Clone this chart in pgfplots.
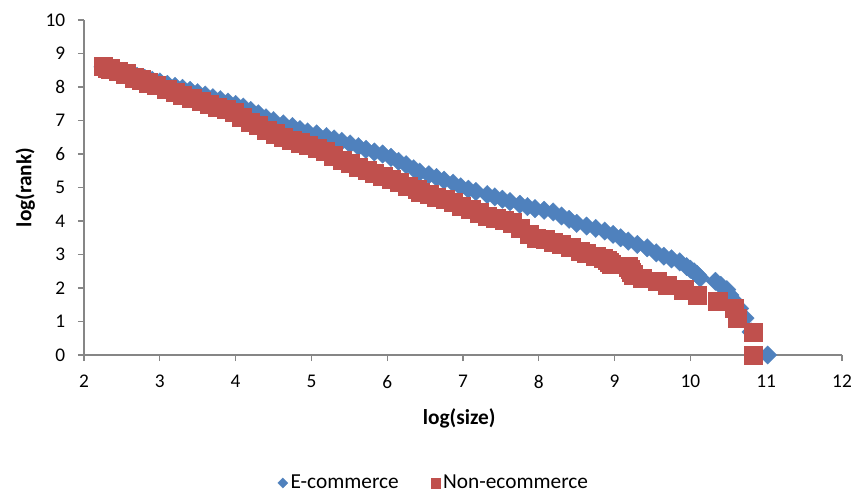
\documentclass[border=0pt]{standalone}
\usepackage{fontspec}
\setmainfont{Carlito}
\usepackage{pgfplots}
\pgfplotsset{compat=1.18}
\definecolor{ecblue}{HTML}{4F81BD}
\definecolor{nered}{HTML}{C0504D}
\definecolor{axgray}{HTML}{868686}
\pgfplotsset{
  legdia/.style={legend image code/.code={\draw[##1, mark size=2.7pt] plot coordinates {(0.15cm,0cm)};}},
  legsq/.style={legend image code/.code={\draw[##1, mark size=3.6pt] plot coordinates {(0.15cm,0cm)};}},
}
\begin{document}
\begin{tikzpicture}
\begin{axis}[
  scale only axis, width=568.5pt, height=251.25pt,
  xmin=2, xmax=12, ymin=0, ymax=10,
  xtick={2,3,...,12}, ytick={0,1,...,10},
  axis lines*=left,
  axis line style={axgray, line width=1pt},
  tick align=outside, major tick length=4.5pt,
  tick style={axgray, line width=0.8pt},
  clip=false,
  /pgf/number format/assume math mode=true,
  ticklabel style={font=\fontsize{14.5}{17}\selectfont, text=black},
  xticklabel style={yshift=-7pt},
  yticklabel style={xshift=-6pt},
  xlabel={\textbf{log(size)}}, ylabel={\textbf{log(rank)}},
  label style={font=\fontsize{16}{19}\selectfont},
  xlabel style={at={(axis description cs:0.495,-0.19)}, anchor=center},
  ylabel style={at={(axis description cs:-0.0774,0.5)}, anchor=center},
  legend columns=2,
  legend style={at={(axis description cs:0.462,-0.382)}, anchor=center, draw=none,
    font=\fontsize{16}{19}\selectfont,
    /tikz/every even column/.append style={column sep=22pt}},
]
\addplot[only marks, mark=square*, mark size=4.9pt,
  mark options={rotate=45, fill=ecblue, draw=ecblue, line width=0.2pt}, legdia]
coordinates {
(2.25,8.60)(2.30,8.57)(2.40,8.50)(2.50,8.45)(2.60,8.38)(2.70,8.32)(2.80,8.26)(2.90,8.20)
(3.00,8.15)(3.10,8.08)(3.20,8.02)(3.30,7.96)(3.40,7.90)(3.50,7.83)(3.60,7.76)(3.70,7.68)
(3.80,7.62)(3.90,7.55)(4.00,7.48)(4.10,7.40)(4.20,7.30)(4.30,7.20)(4.40,7.08)(4.50,7.00)
(4.63,6.90)(4.75,6.82)(4.85,6.73)(4.95,6.66)(5.07,6.60)(5.20,6.52)(5.30,6.45)(5.40,6.38)
(5.51,6.30)(5.62,6.22)(5.72,6.14)(5.83,6.06)(5.94,6.00)(6.05,5.90)(6.15,5.78)(6.25,5.68)
(6.35,5.56)(6.43,5.46)(6.55,5.38)(6.65,5.30)(6.75,5.22)(6.87,5.13)(6.97,5.02)(7.07,4.95)
(7.17,4.88)(7.32,4.79)(7.42,4.72)(7.52,4.65)(7.62,4.58)(7.75,4.50)(7.85,4.43)(7.95,4.37)
(8.07,4.32)(8.19,4.27)(8.30,4.15)(8.40,4.05)(8.50,3.93)(8.63,3.85)(8.75,3.78)(8.87,3.70)
(8.98,3.60)(9.08,3.50)(9.18,3.40)(9.30,3.30)(9.43,3.20)(9.55,3.05)(9.65,2.95)(9.75,2.87)
(9.86,2.78)(9.95,2.64)(10.00,2.56)(10.05,2.48)(10.09,2.40)(10.13,2.30)(10.33,2.20)
(10.40,2.08)(10.48,1.95)(10.52,1.79)(10.58,1.61)(10.65,1.39)(10.72,1.10)(10.80,0.69)
(11.02,0.00)
};
\addlegendentry{E-commerce}
\addplot[only marks, mark=square*, mark size=6.8pt,
  mark options={fill=nered, draw=nered, line width=0.2pt}, legsq]
coordinates {
(2.25,8.62)(2.30,8.57)(2.35,8.55)(2.45,8.48)(2.55,8.40)(2.66,8.28)(2.75,8.22)(2.85,8.13)
(2.95,8.05)(3.09,7.94)(3.20,7.85)(3.30,7.76)(3.42,7.66)(3.54,7.57)(3.65,7.49)(3.76,7.41)
(3.87,7.33)(3.98,7.25)(4.08,7.10)(4.19,6.96)(4.30,6.85)(4.41,6.72)(4.52,6.61)(4.63,6.50)
(4.74,6.42)(4.85,6.34)(4.96,6.27)(5.07,6.18)(5.18,6.08)(5.29,5.95)(5.40,5.82)(5.51,5.72)
(5.62,5.62)(5.73,5.52)(5.83,5.43)(5.94,5.34)(6.05,5.25)(6.16,5.15)(6.27,5.05)(6.39,4.95)
(6.43,4.87)(6.55,4.80)(6.65,4.72)(6.76,4.64)(6.87,4.56)(6.98,4.45)(7.10,4.35)(7.21,4.25)
(7.32,4.15)(7.43,4.08)(7.54,4.02)(7.65,3.95)(7.75,3.80)(7.87,3.62)(7.97,3.50)(8.08,3.45)
(8.19,3.37)(8.30,3.30)(8.42,3.22)(8.54,3.10)(8.63,3.05)(8.75,2.95)(8.85,2.89)(8.90,2.83)
(8.93,2.77)(8.95,2.71)(9.18,2.64)(9.20,2.56)(9.22,2.48)(9.25,2.40)(9.36,2.30)(9.56,2.20)
(9.69,2.08)(9.91,1.95)(10.09,1.79)(10.36,1.61)(10.58,1.39)(10.62,1.10)(10.83,0.69)
(10.83,0.00)
};
\addlegendentry{Non-ecommerce}
\end{axis}
\path (current axis.south west) ++(-63pt,-104.25pt) coordinate (bbl);
\path (current axis.north east) ++(9.75pt,15pt) coordinate (btr);
\pgfresetboundingbox
\path (bbl) rectangle (btr);
\end{tikzpicture}
\end{document}
